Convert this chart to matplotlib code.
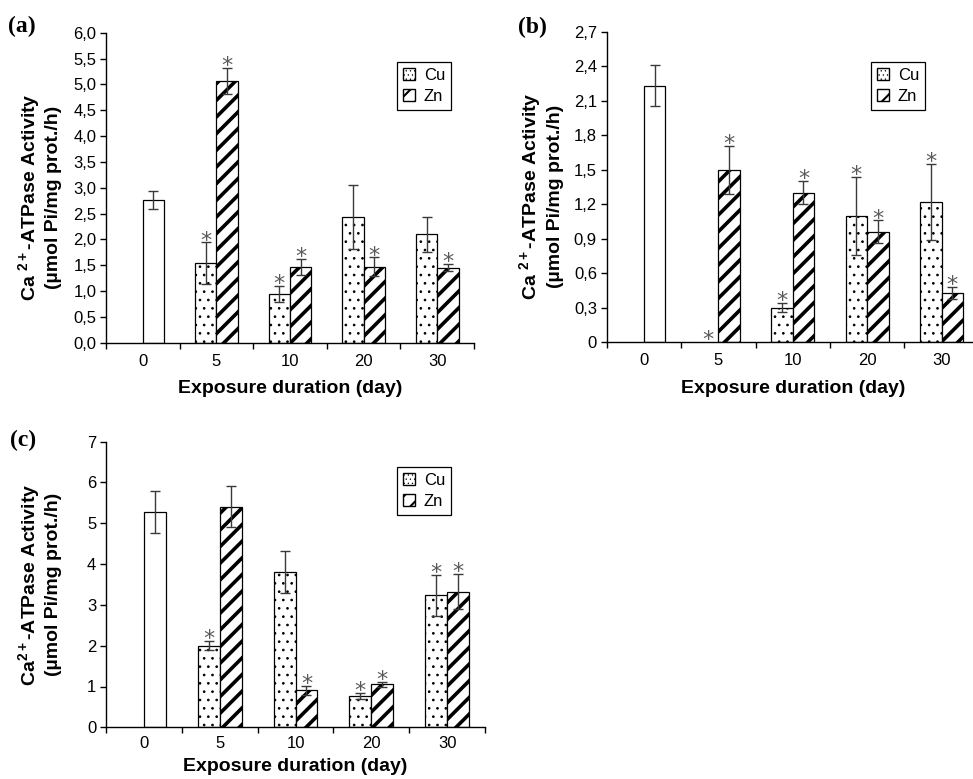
import matplotlib
matplotlib.use('Agg')
import matplotlib.pyplot as plt
import matplotlib.patches as mpatches

plt.rcParams['font.family'] = 'Liberation Sans'
plt.rcParams['mathtext.fontset'] = 'custom'
plt.rcParams['mathtext.rm'] = 'Liberation Sans'
plt.rcParams['mathtext.bf'] = 'Liberation Sans:bold'
plt.rcParams['hatch.color'] = 'black'

# exposure days (categories), 0 = control
days = ['0', '5', '10', '20', '30']

# panel (a)
a_control = 2.76
a_control_err = 0.17
a_cu = [1.54, 0.94, 2.43, 2.10]
a_cu_err = [0.40, 0.16, 0.62, 0.34]
a_zn = [5.07, 1.47, 1.47, 1.45]
a_zn_err = [0.25, 0.15, 0.18, 0.07]
a_cu_sig = [True, True, False, False]
a_zn_sig = [True, True, True, True]
a_yticks = [0.0, 0.5, 1.0, 1.5, 2.0, 2.5, 3.0, 3.5, 4.0, 4.5, 5.0, 5.5, 6.0]
a_ylabels = ['0,0', '0,5', '1,0', '1,5', '2,0', '2,5', '3,0', '3,5', '4,0',
             '4,5', '5,0', '5,5', '6,0']

# panel (b)
b_control = 2.23
b_control_err = 0.18
b_cu = [0.0, 0.30, 1.10, 1.22]
b_cu_err = [0.0, 0.04, 0.34, 0.33]
b_zn = [1.50, 1.30, 0.96, 0.43]
b_zn_err = [0.21, 0.10, 0.10, 0.05]
b_cu_sig = [True, True, True, True]
b_zn_sig = [True, True, True, True]
b_yticks = [0.0, 0.3, 0.6, 0.9, 1.2, 1.5, 1.8, 2.1, 2.4, 2.7]
b_ylabels = ['0', '0,3', '0,6', '0,9', '1,2', '1,5', '1,8', '2,1', '2,4', '2,7']

# panel (c)
c_control = 5.27
c_control_err = 0.51
c_cu = [2.00, 3.80, 0.77, 3.24]
c_cu_err = [0.11, 0.52, 0.08, 0.50]
c_zn = [5.41, 0.91, 1.05, 3.32]
c_zn_err = [0.50, 0.11, 0.07, 0.43]
c_cu_sig = [True, False, True, True]
c_zn_sig = [False, True, True, True]
c_yticks = [0, 1, 2, 3, 4, 5, 6, 7]
c_ylabels = ['0', '1', '2', '3', '4', '5', '6', '7']

W, H = 973, 779
BAR_W = 0.29
ERR_COLOR = '#3a3a3a'
STAR_COLOR = '#5a5a5a'


def set_hatch_lw(patches, lw):
    for p in patches:
        if hasattr(p, 'set_hatch_linewidth'):
            p.set_hatch_linewidth(lw)


def star(ax, x, y):
    ax.annotate('*', xy=(x, y), xytext=(0, -3), textcoords='offset points',
                ha='center', va='baseline', fontsize=16, color=STAR_COLOR,
                family='DejaVu Sans')


def draw_panel(ax, control, control_err, cu, cu_err, zn, zn_err, cu_sig, zn_sig,
               yticks, ylabels, ylabel, tick_pad, xlabel_pad):
    n = len(cu)
    xs = list(range(1, n + 1))
    ekw = dict(ecolor=ERR_COLOR, elinewidth=1.0, capsize=3.3, capthick=1.0)

    ax.bar([BAR_W / 2], [control], BAR_W, color='white', edgecolor='black',
           linewidth=0.9, yerr=[control_err], error_kw=ekw, zorder=2)

    cu_x = [x - BAR_W / 2 for x in xs]
    zn_x = [x + BAR_W / 2 for x in xs]
    # skip zero bars (no Cu bar drawn at day 5 in panel b)
    cu_draw = [i for i in range(n) if cu[i] > 0]
    bc = ax.bar([cu_x[i] for i in cu_draw], [cu[i] for i in cu_draw], BAR_W,
                color='white', edgecolor='black', linewidth=0.9, hatch='..',
                yerr=[cu_err[i] for i in cu_draw], error_kw=ekw, zorder=2)
    set_hatch_lw(bc.patches, 0.7)
    bz = ax.bar(zn_x, zn, BAR_W, color='white', edgecolor='black', linewidth=0.9,
                hatch='//', yerr=zn_err, error_kw=ekw, zorder=2)
    set_hatch_lw(bz.patches, 2.6)

    for i in range(n):
        if cu_sig[i]:
            star(ax, cu_x[i], cu[i] + cu_err[i])
        if zn_sig[i]:
            star(ax, zn_x[i], zn[i] + zn_err[i])

    ax.set_xlim(-0.5, n + 0.5)
    ax.set_ylim(yticks[0], yticks[-1])
    ax.set_yticks(yticks)
    ax.set_yticklabels(ylabels)
    ax.set_xticks([i - 0.5 for i in range(n + 2)])
    ax.set_xticklabels([])
    ax.set_xticks(list(range(n + 1)), minor=True)
    ax.set_xticklabels(days, minor=True)
    ax.tick_params(axis='x', which='major', direction='out', length=4, width=1)
    ax.tick_params(axis='x', which='minor', length=0, pad=tick_pad, labelsize=12)
    ax.tick_params(axis='y', direction='out', length=4, width=1, pad=3,
                   labelsize=12)
    for s in ['top', 'right']:
        ax.spines[s].set_visible(False)
    for s in ['left', 'bottom']:
        ax.spines[s].set_linewidth(1.0)

    ax.set_xlabel('Exposure duration (day)', fontsize=14, fontweight='bold',
                  labelpad=xlabel_pad)
    ax.set_ylabel(ylabel, fontsize=14, fontweight='bold', linespacing=1.25)

    handles = [mpatches.Patch(facecolor='white', edgecolor='black', hatch='....',
                              label='Cu'),
               mpatches.Patch(facecolor='white', edgecolor='black', hatch='//',
                              label='Zn')]
    return handles


def add_legend(fig, handles, x, y):
    leg = fig.legend(handles=handles, loc='upper left',
                     bbox_to_anchor=(x / W, 1 - y / H), bbox_transform=fig.transFigure,
                     fancybox=False, framealpha=1, edgecolor='black', fontsize=12,
                     handlelength=0.75, handleheight=0.75, handletextpad=0.5,
                     labelspacing=0.35, borderpad=0.35, borderaxespad=0)
    leg.get_frame().set_linewidth(0.9)
    for p in leg.get_patches():
        if p.get_hatch() == '//':
            set_hatch_lw([p], 1.5)
        else:
            set_hatch_lw([p], 0.4)


fig = plt.figure(figsize=(W / 100, H / 100), dpi=100)

ax_a = fig.add_axes([106 / W, 1 - 342.7 / H, 368 / W, 310 / H])
ax_b = fig.add_axes([606.7 / W, 1 - 342.3 / H, 372 / W, 310.6 / H])
ax_c = fig.add_axes([106 / W, 1 - 727.3 / H, 379 / W, 285.6 / H])

ylab_ab = 'Ca $\\mathbf{^{2+}}$-ATPase Activity\n(\u00b5mol Pi/mg prot./h)'
ylab_c = 'Ca$\\mathbf{^{2+}}$-ATPase Activity\n(\u00b5mol Pi/mg prot./h)'

h = draw_panel(ax_a, a_control, a_control_err, a_cu, a_cu_err, a_zn, a_zn_err,
               a_cu_sig, a_zn_sig, a_yticks, a_ylabels, ylab_ab, 8, 8)
add_legend(fig, h, 397, 62)
h = draw_panel(ax_b, b_control, b_control_err, b_cu, b_cu_err, b_zn, b_zn_err,
               b_cu_sig, b_zn_sig, b_yticks, b_ylabels, ylab_ab, 8, 8)
add_legend(fig, h, 871, 62)
h = draw_panel(ax_c, c_control, c_control_err, c_cu, c_cu_err, c_zn, c_zn_err,
               c_cu_sig, c_zn_sig, c_yticks, c_ylabels, ylab_c, 6, 5)
add_legend(fig, h, 397, 467)

ax_a.yaxis.set_label_coords(-44 / 368, 0.47)
ax_b.yaxis.set_label_coords(-43 / 372, 0.47)
ax_c.yaxis.set_label_coords(-44 / 379, 0.5)

for lab, x, y in [('(a)', 8, 26), ('(b)', 518, 27), ('(c)', 10, 440)]:
    fig.text(x / W, 1 - y / H, lab, family='Liberation Serif', fontweight='bold',
             fontsize=17, ha='left', va='center')

fig.savefig('out.png', dpi=100)
